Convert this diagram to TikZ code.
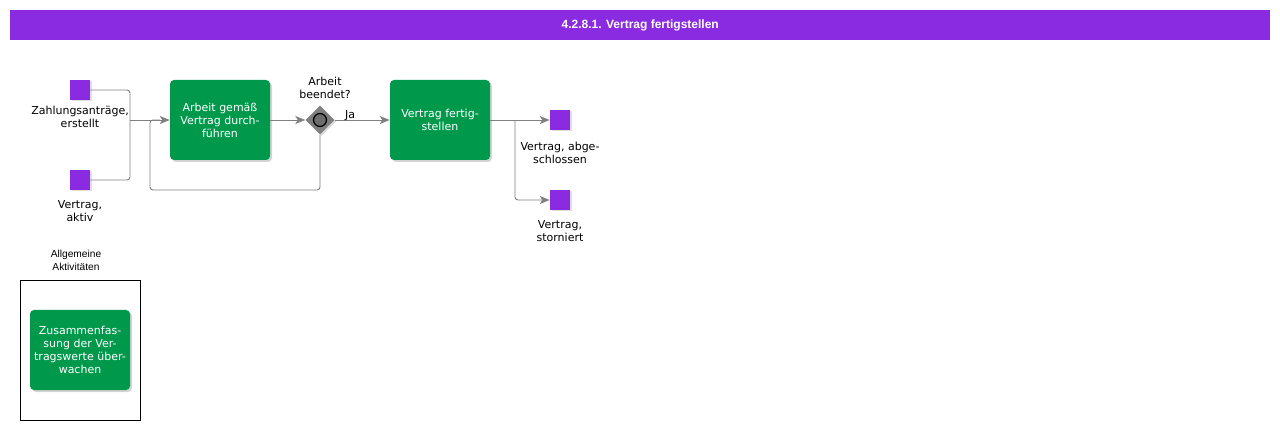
\documentclass[tikz,border=0pt]{standalone}
\usepackage{fontspec}
\setmainfont{DejaVu Sans}
\newfontfamily\arialfont{Liberation Sans}
\usetikzlibrary{shapes.geometric,arrows.meta,shadows}
\definecolor{bpurple}{HTML}{8A2BE2}
\definecolor{bgreen}{HTML}{00994C}
\definecolor{lgray}{HTML}{808080}
\tikzset{
  lbl/.style={font=\fontsize{11}{13}\selectfont, align=center, inner sep=0pt, text=black},
  taskbox/.style={fill=bgreen, rounded corners=4pt, minimum width=100pt, minimum height=80pt,
    inner sep=0pt, text=white, align=center, font=\fontsize{11}{13}\selectfont,
    drop shadow={shadow xshift=2pt, shadow yshift=-2pt, opacity=0.35, fill=gray}},
  objbox/.style={fill=bpurple, minimum width=20pt, minimum height=20pt, inner sep=0pt,
    drop shadow={shadow xshift=1.5pt, shadow yshift=-1.5pt, opacity=0.25, fill=gray}},
  flow/.style={draw=lgray, line width=0.9pt, rounded corners=3pt,
    -{Stealth[length=10pt,width=8pt,inset=2.5pt]}},
  flowplain/.style={draw=lgray, line width=0.9pt, rounded corners=3pt},
}
\begin{document}
\begin{tikzpicture}[x=1pt,y=-1pt]
\useasboundingbox (0,0) rectangle (1280,430);
% title
\node[fill=bpurple, minimum width=1260pt, minimum height=30pt, inner sep=0pt, anchor=north west,
  text=white, font=\arialfont\bfseries\fontsize{12}{14}\selectfont] (title) at (10,10) {4.2.8.1. Vertrag fertigstellen};
% objects
\node[objbox] (s1) at (80,90) {};
\node[lbl, anchor=north] (s1l) at (80,105.5) {Zahlungsanträge,\\erstellt};
\node[objbox] (s2) at (80,180) {};
\node[lbl, anchor=north] (s2l) at (80,200.5) {Vertrag,\\aktiv};
% tasks
\node[taskbox] (t1) at (220,120) {Arbeit gemäß\\Vertrag durch-\\führen};
\node[diamond, fill=lgray, minimum width=29pt, minimum height=29pt, inner sep=0pt,
  drop shadow={shadow xshift=1.5pt, shadow yshift=-1.5pt, opacity=0.3, fill=gray}] (g) at (320,120) {};
\draw[black, line width=1.3pt, fill=lgray!85!black] (g.center) circle (6.5pt);
\node[lbl, anchor=south] (gl) at (325,98.5) {Arbeit\\beendet?};
\node[taskbox] (t2) at (440,120) {Vertrag fertig-\\stellen};
\node[objbox] (e1) at (560,120) {};
\node[lbl, anchor=north] (e1l) at (560,142) {Vertrag, abge-\\schlossen};
\node[objbox] (e2) at (560,200) {};
\node[lbl, anchor=north] (e2l) at (560,220.5) {Vertrag,\\storniert};
% group
\node[draw=black, line width=0.6pt, minimum width=120pt, minimum height=140pt, inner sep=0pt, anchor=north west] (grp) at (20,280) {};
\node[align=center, inner sep=0pt, font=\arialfont\fontsize{10.2}{13}\selectfont, anchor=south] (grpl) at (76,270.5) {Allgemeine\\Aktivitäten};
\node[taskbox] (t3) at (80,350) {Zusammenfas-\\sung der Ver-\\tragswerte über-\\wachen};
% connectors
\coordinate (j1) at (130,120);
\coordinate (j1a) at (130,90);
\coordinate (j1b) at (130,180);
\draw[flowplain] (s1.east) -- (j1a) -- (j1);
\draw[flowplain] (s2.east) -- (j1b) -- (j1);
\draw[flow] (j1) -- (t1.west);
\coordinate (lp1) at (320,190);
\coordinate (lp2) at (150,190);
\coordinate (lp3) at (150,120);
\draw[flowplain] (g.south) -- (lp1) -- (lp2) -- (lp3) -- (160,120);
\draw[flow] (t1.east) -- (g.west);
\draw[flow] (g.east) -- node[lbl, above, pos=0.28, yshift=-1pt] (ja) {Ja} (t2.west);
\coordinate (sp) at (515,120);
\draw[flow] (t2.east) -- (e1.west);
\draw[flow] (sp) -- (515,200) -- (e2.west);
\end{tikzpicture}
\end{document}
